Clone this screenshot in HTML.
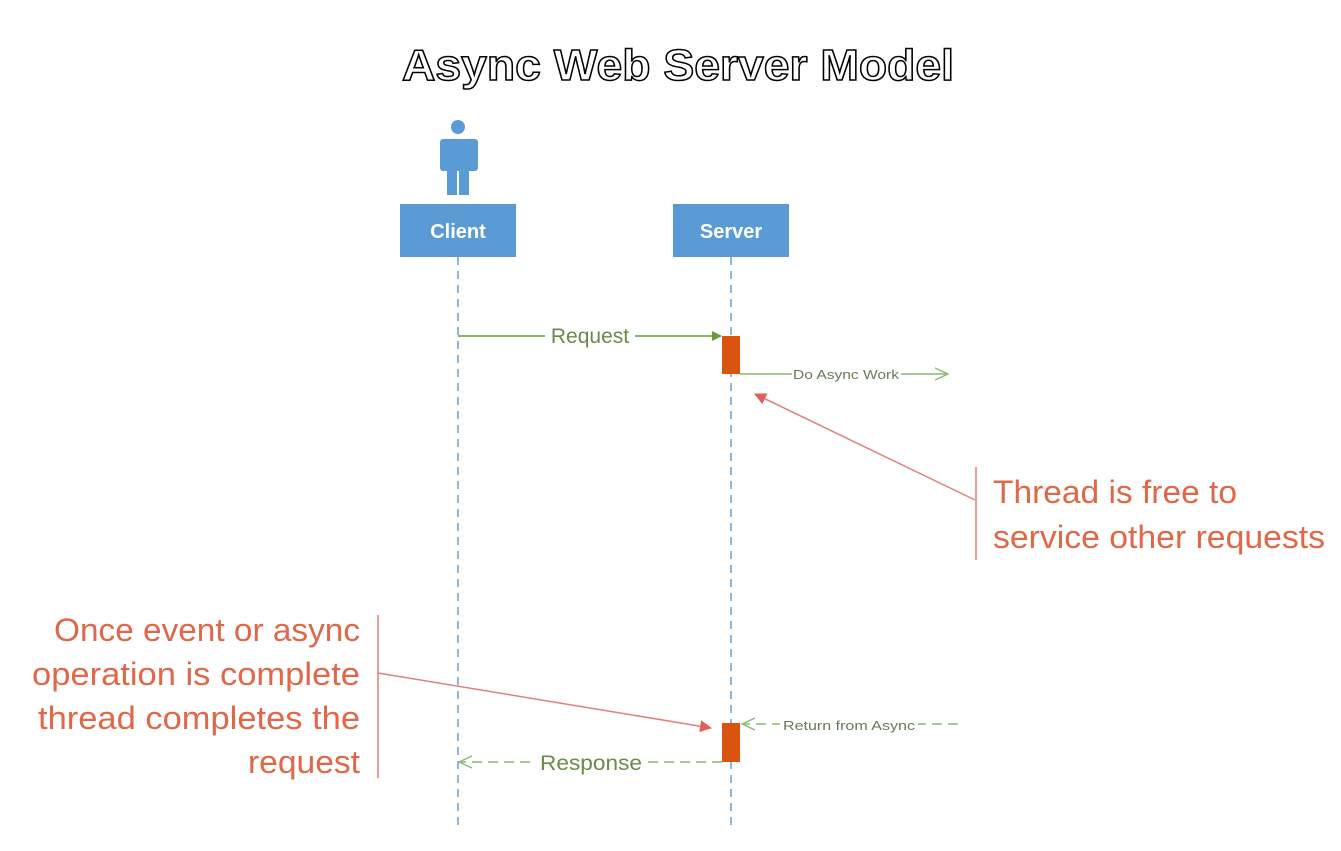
<!DOCTYPE html>
<html><head><meta charset="utf-8"><style>html,body{margin:0;padding:0;background:#fff;}svg{display:block}</style></head>
<body>
<svg width="1341" height="851" viewBox="0 0 1341 851" xmlns="http://www.w3.org/2000/svg" font-family="'Liberation Sans', 'DejaVu Sans', sans-serif">
<defs>
<marker id="gf" markerWidth="10" markerHeight="10" refX="9" refY="5" orient="auto" markerUnits="userSpaceOnUse"><path d="M0,0 L10,5 L0,10 z" fill="#6a9a3a"/></marker>
<marker id="go" markerWidth="14" markerHeight="14" refX="13" refY="7" orient="auto" markerUnits="userSpaceOnUse"><path d="M0,1 L13,7 L0,13" fill="none" stroke="#8ab870" stroke-width="1.3"/></marker>
<marker id="rf" markerWidth="12" markerHeight="12" refX="11" refY="6" orient="auto" markerUnits="userSpaceOnUse"><path d="M0,0 L12,6 L0,12 z" fill="#e0605a"/></marker>
</defs>
<rect width="1341" height="851" fill="#fff"/>
<text x="678" y="80" text-anchor="middle" font-size="44" font-weight="bold" fill="#fff" stroke="#000" stroke-width="1.5" textLength="552" lengthAdjust="spacingAndGlyphs">Async Web Server Model</text>
<!-- person -->
<circle cx="458" cy="127" r="7" fill="#5b9bd5"/>
<rect x="440" y="139" width="38" height="32" rx="3" fill="#5b9bd5"/>
<rect x="447" y="165" width="10" height="30" fill="#5b9bd5"/>
<rect x="459" y="165" width="10" height="30" fill="#5b9bd5"/>
<!-- boxes -->
<rect x="400" y="204" width="116" height="53" fill="#5b9bd5"/>
<text x="458" y="238" text-anchor="middle" font-size="20" font-weight="bold" fill="#fff">Client</text>
<rect x="673" y="204" width="116" height="53" fill="#5b9bd5"/>
<text x="731" y="238" text-anchor="middle" font-size="20" font-weight="bold" fill="#fff">Server</text>
<!-- lifelines -->
<line x1="458" y1="257" x2="458" y2="825" stroke="#6a9fc8" stroke-width="1.5" stroke-dasharray="8,6"/>
<line x1="731" y1="257" x2="731" y2="825" stroke="#6a9fc8" stroke-width="1.5" stroke-dasharray="8,6"/>
<!-- request -->
<line x1="458" y1="336" x2="721" y2="336" stroke="#6a9a3a" stroke-width="1.5" marker-end="url(#gf)"/>
<rect x="545" y="324" width="90" height="24" fill="#fff"/>
<text x="590" y="343" text-anchor="middle" font-size="21" fill="#6a8a4a">Request</text>
<rect x="722" y="336" width="18" height="38" fill="#d9540f"/>
<!-- do async -->
<line x1="740" y1="374" x2="948" y2="374" stroke="#8ab870" stroke-width="1.5" marker-end="url(#go)"/>
<rect x="792" y="366" width="109" height="16" fill="#fff"/>
<text x="846" y="379" text-anchor="middle" font-size="13" fill="#6a7a5a" textLength="106" lengthAdjust="spacingAndGlyphs">Do Async Work</text>
<!-- red annotation 1 -->
<line x1="975" y1="500" x2="755" y2="394" stroke="#e0807a" stroke-width="1.5" marker-end="url(#rf)"/>
<line x1="976" y1="467" x2="976" y2="560" stroke="#e0807a" stroke-width="1.5"/>
<g font-size="32" fill="#e06848">
<text x="993" y="503" textLength="244" lengthAdjust="spacingAndGlyphs">Thread is free to</text>
<text x="993" y="548" textLength="332" lengthAdjust="spacingAndGlyphs">service other requests</text>
</g>
<!-- red annotation 2 -->
<line x1="378" y1="615" x2="378" y2="778" stroke="#e0807a" stroke-width="1.5"/>
<line x1="378" y1="673" x2="711" y2="728" stroke="#e0807a" stroke-width="1.5" marker-end="url(#rf)"/>
<g font-size="32" fill="#e06848" text-anchor="end">
<text x="360" y="641" textLength="306" lengthAdjust="spacingAndGlyphs">Once event or async</text>
<text x="360" y="685" textLength="328" lengthAdjust="spacingAndGlyphs">operation is complete</text>
<text x="360" y="729" textLength="322" lengthAdjust="spacingAndGlyphs">thread completes the</text>
<text x="360" y="773" textLength="112" lengthAdjust="spacingAndGlyphs">request</text>
</g>
<!-- return -->
<rect x="722" y="723" width="18" height="39" fill="#d9540f"/>
<line x1="958" y1="724" x2="742" y2="724" stroke="#8ab870" stroke-width="1.5" stroke-dasharray="10,6" marker-end="url(#go)"/>
<rect x="780" y="716" width="138" height="17" fill="#fff"/>
<text x="849" y="730" text-anchor="middle" font-size="13" fill="#6a7a5a" textLength="132" lengthAdjust="spacingAndGlyphs">Return from Async</text>
<line x1="722" y1="762" x2="459" y2="762" stroke="#8ab870" stroke-width="1.5" stroke-dasharray="10,6" marker-end="url(#go)"/>
<rect x="535" y="749" width="112" height="26" fill="#fff"/>
<text x="591" y="770" text-anchor="middle" font-size="21" fill="#6a8a4a" textLength="102" lengthAdjust="spacingAndGlyphs">Response</text>
</svg>
</body></html>
